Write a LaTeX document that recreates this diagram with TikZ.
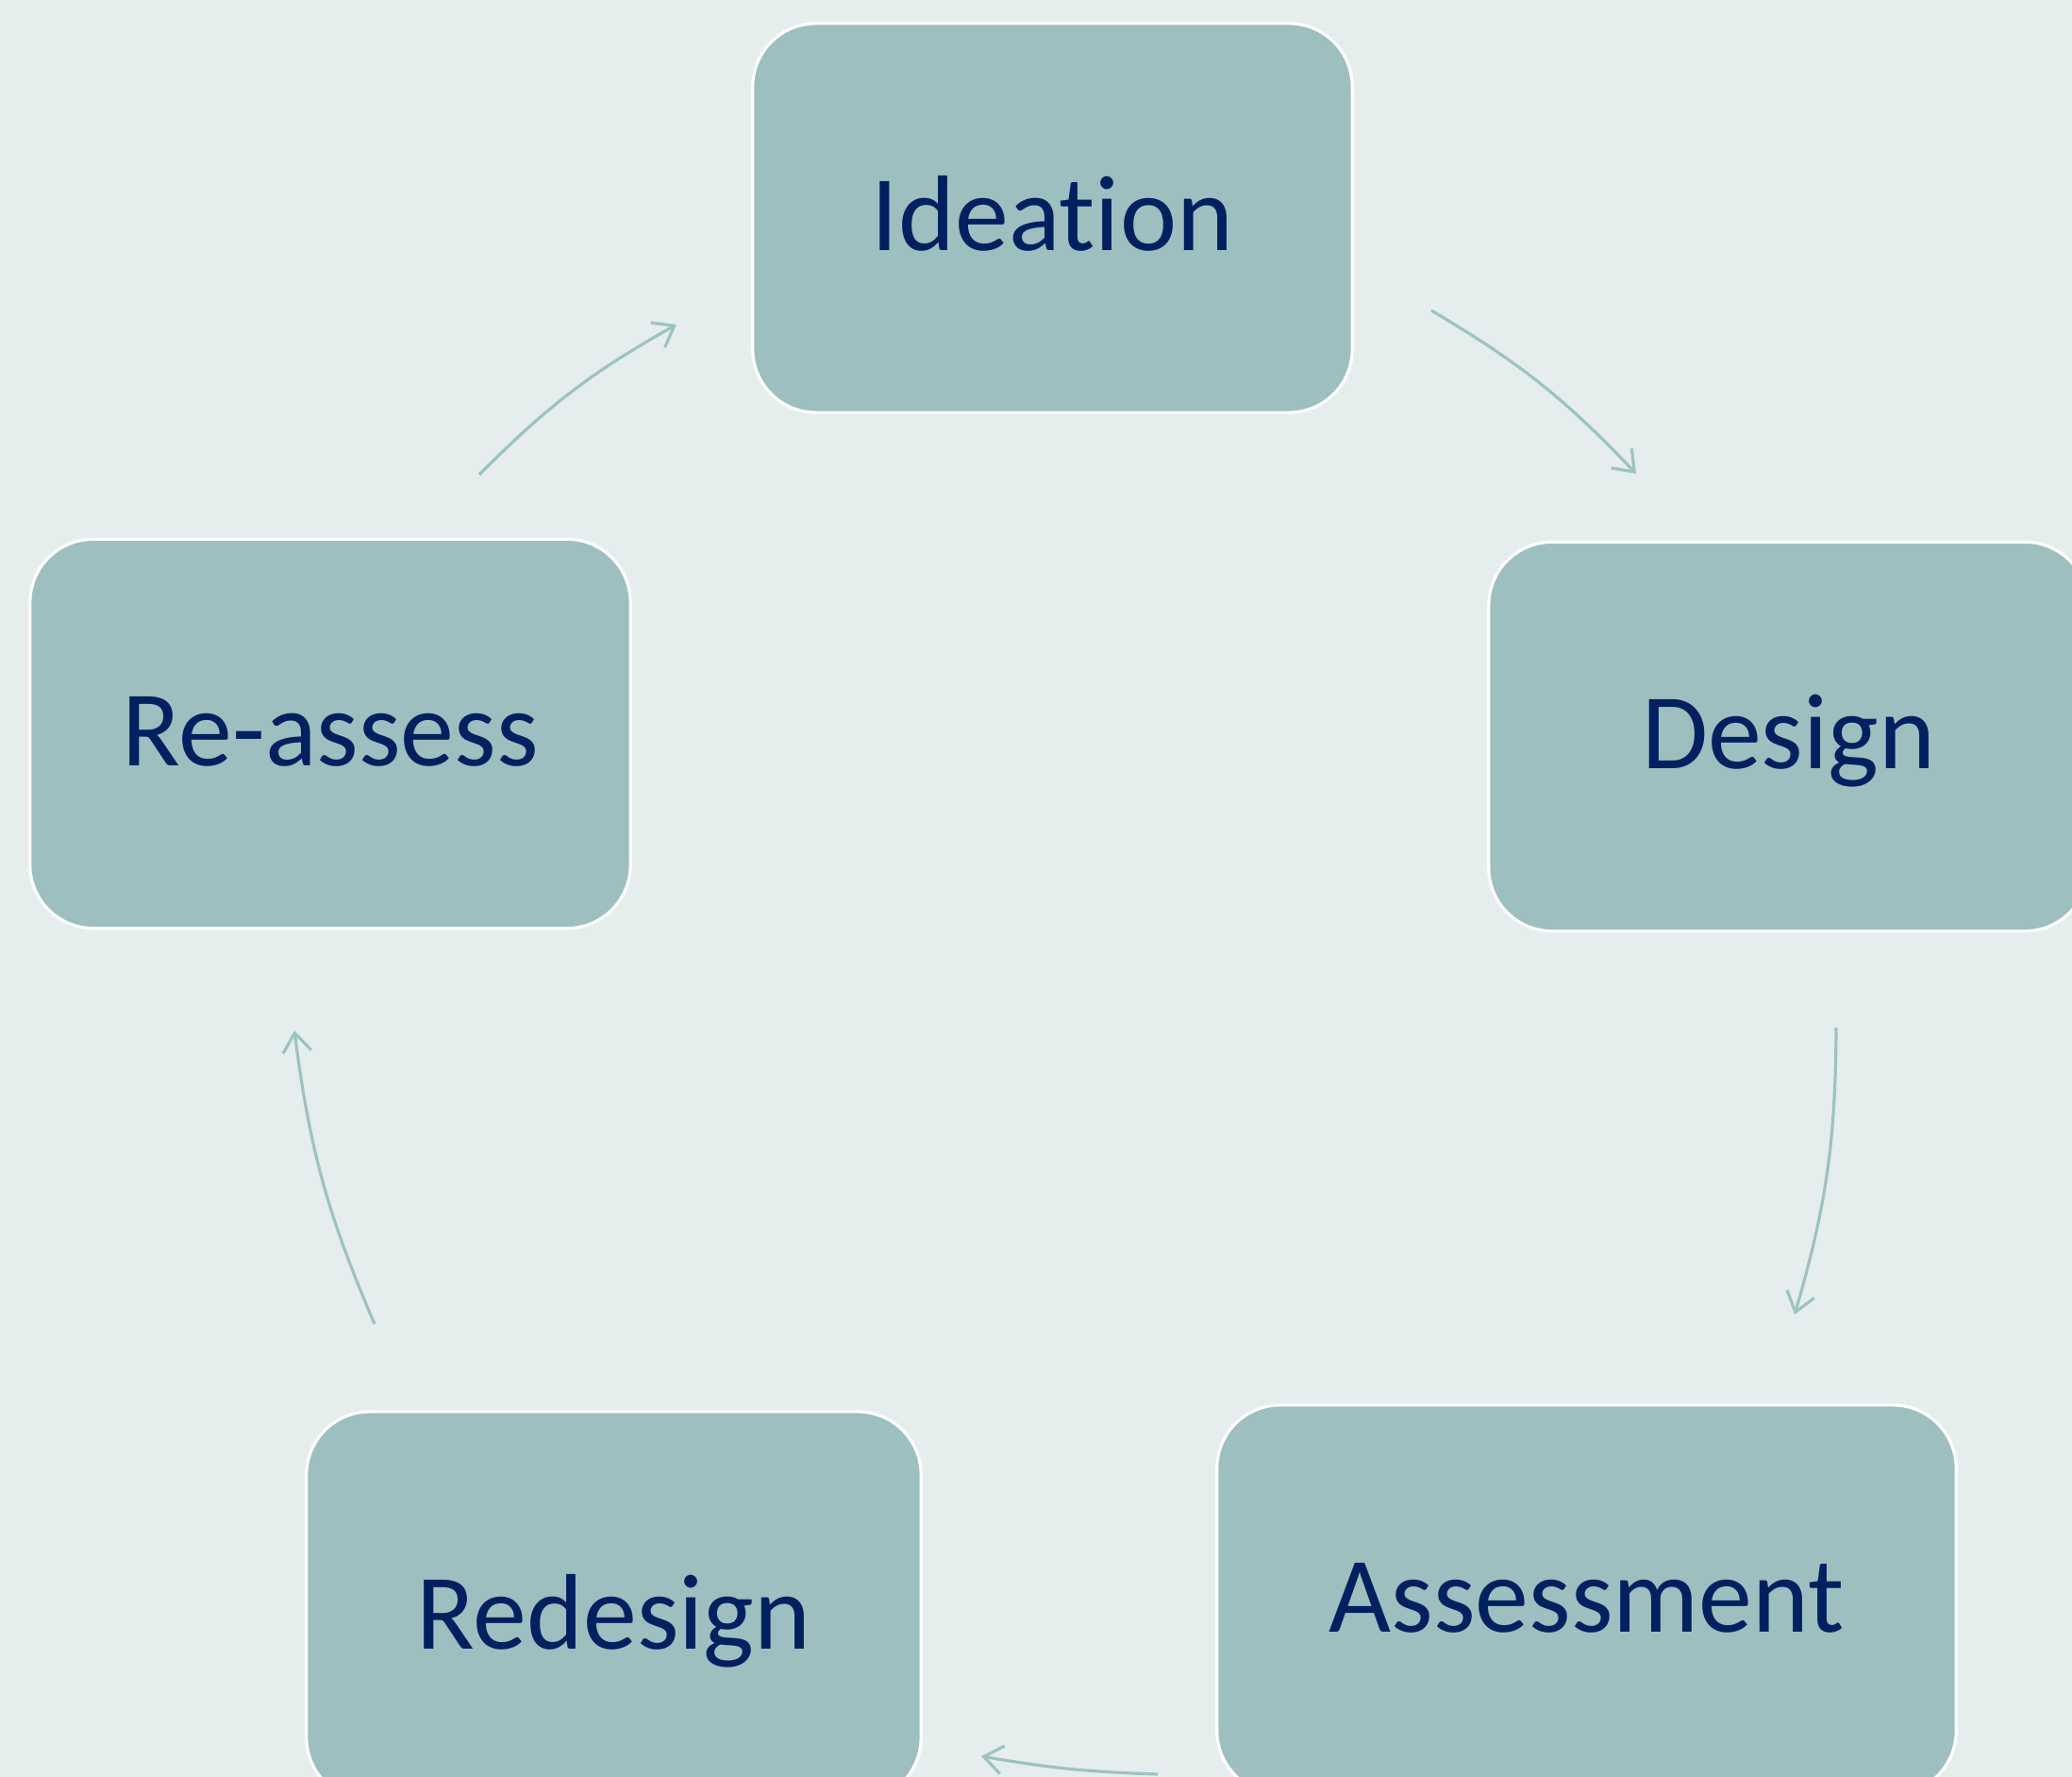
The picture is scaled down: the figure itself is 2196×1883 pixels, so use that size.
\documentclass[tikz,border=0pt]{standalone}
\usepackage{fontspec}
\setmainfont{Carlito}[Ligatures=NoCommon]
\usetikzlibrary{arrows.meta}
\definecolor{bgcol}{HTML}{E5EEED}
\definecolor{boxcol}{HTML}{9EBFBF}
\definecolor{txtcol}{HTML}{002060}
\definecolor{arrcol}{HTML}{9DC3C0}
\begin{document}
\begin{tikzpicture}[x=0.01cm,y=-0.01cm,
		stage/.style={draw=white,line width=0.9pt,fill=boxcol,rounded corners=0.67cm,
			minimum height=4.12cm,inner sep=0pt,text=txtcol,
			font=\fontsize{32.4pt}{39pt}\selectfont,text height=0.74cm,text depth=0.06cm},
		cyc/.style={draw=arrcol,line width=0.9pt,-{Straight Barb[length=2mm,width=3mm]}}]
		\useasboundingbox (0,0) rectangle (2196,1883);
		\fill[bgcol] (0,0) rectangle (2196,1883);
		\clip (0,0) rectangle (2196,1883);
		\node[stage,minimum width=6.35cm] (ide) at (1115.5,231) {Ideation};
		\node[stage,minimum width=6.35cm] (des) at (1895.5,780.5) {Design};
		\node[stage,minimum width=7.83cm] (ass) at (1681.5,1695) {Assessment};
		\node[stage,minimum width=6.51cm,text height=0.96cm] (red) at (650.5,1702) {Redesign};
		\node[stage,minimum width=6.36cm] (rea) at (350,777.5) {Re-assess};
		\coordinate (s1) at (1517,329);  \coordinate (e1) at (1734,502);
		\coordinate (s2) at (1946,1089); \coordinate (e2) at (1902,1393);
		\coordinate (s3) at (1227,1880); \coordinate (e3) at (1040,1861);
		\coordinate (s4) at (397,1403);  \coordinate (e4) at (312,1092);
		\coordinate (s5) at (508,503);   \coordinate (e5) at (717,344);
		\foreach \i/\b in {1/8,2/8,3/4,4/8,5/8}
			\draw[cyc] (s\i) to[bend left=\b] (e\i);
	\end{tikzpicture}
\end{document}
